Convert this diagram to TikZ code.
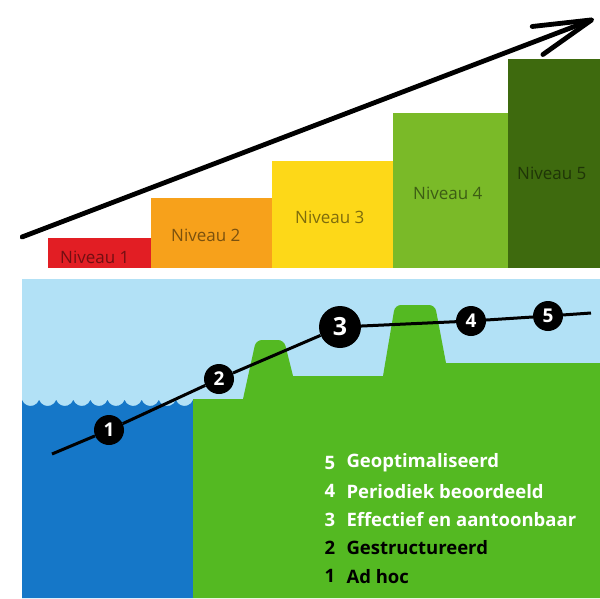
\documentclass[tikz,border=0pt]{standalone}
\usepackage{fontspec}
\setmainfont{Open Sans}
\usetikzlibrary{arrows.meta}

\definecolor{barred}{RGB}{226,30,36}
\definecolor{barorange}{RGB}{247,161,27}
\definecolor{baryellow}{RGB}{253,216,24}
\definecolor{barlight}{RGB}{122,186,40}
\definecolor{bardark}{RGB}{62,106,14}
\definecolor{sky}{RGB}{178,225,246}
\definecolor{water}{RGB}{21,119,200}
\definecolor{land}{RGB}{84,185,34}

\begin{document}
\begin{tikzpicture}
    [x=1pt, y=1pt, yscale=-1,
    niveau/.style={font=\fontsize{17}{20}\selectfont},
    stage/.style={circle, fill=black, inner sep=0pt, minimum size=30pt,
      text=white, font=\bfseries\fontsize{19}{22}\selectfont},
    bigstage/.style={stage, minimum size=42pt, font=\bfseries\fontsize{25}{28}\selectfont},
    item/.style={anchor=west, font=\bfseries\fontsize{18.5}{22}\selectfont},
    itemnr/.style={font=\bfseries\fontsize{18.5}{22}\selectfont}]

    \useasboundingbox (0,0) rectangle (600,598);

    \def\wave{400}

    % Top panel: the five bars and the arrow
    \begin{scope}
      \clip (20,0) rectangle (600,268);
      \fill[barred]    (48,238)  rectangle (151,268);
      \fill[barorange] (151,198) rectangle (272,268);
      \fill[baryellow] (272,161) rectangle (393,268);
      \fill[barlight]  (393,113) rectangle (508,268);
      \fill[bardark]   (508,59)  rectangle (600,268);

      \foreach \n/\x/\y/\c in {1/60/257/barred, 2/171/235/barorange,
        3/295/217/baryellow, 4/413/193/barlight, 5/517/173/bardark}
        \node[niveau, anchor=west, inner sep=0pt, text=\c!50!black] (niv\n) at (\x,\y) {Niveau \n};

      \coordinate (arrowstart) at (22,237);
      \coordinate (arrowend) at (594,19);
      \draw[line width=4.8pt, line cap=round,
        -{Straight Barb[length=58pt, width=30pt, round]}] (arrowstart) -- (arrowend);
    \end{scope}

    % Bottom panel: sky, water and land
    \fill[sky] (22,279) rectangle (600,598);
    \fill[water] (22,598) -- (22,\wave)
      \foreach \i in {1,...,10} {arc[start angle=160, end angle=20, radius=9.1]}
      -- (193,598) -- cycle;
    \fill[land] (193,598) -- (193,399) -- (243,399)
      [rounded corners=6pt] -- (256,340) -- (284,340) [sharp corners] -- (293,376)
      -- (383,376) [rounded corners=6pt] -- (395,305) -- (435,305) [sharp corners]
      -- (446,363) -- (600,363) -- (600,598) -- cycle;

    % The path through the five stages
    \coordinate (linestart) at (52,454);
    \coordinate (lineend) at (591,313);
    \node[stage] (c1) at (109,430) {1};
    \node[stage] (c2) at (219,379) {2};
    \node[bigstage] (c3) at (340,327) {3};
    \node[stage] (c4) at (471,321) {4};
    \node[stage] (c5) at (548,316) {5};
    \draw[line width=3pt] (linestart) -- (c1) -- (c2) -- (c3) -- (c4) -- (c5) -- (lineend);

    % Legend
    \foreach \n/\t/\c [count=\k from 0] in {5/Geoptimaliseerd/white,
      4/Periodiek beoordeeld/white, 3/Effectief en aantoonbaar/white,
      2/Gestructureerd/black, 1/Ad hoc/black} {
      \node[itemnr, text=\c] (nr\n) at (330,463+28.3*\k) {\n};
      \node[item, text=\c] (item\n) at (343,463+28.3*\k) {\t};
    }

  \end{tikzpicture}
\end{document}
